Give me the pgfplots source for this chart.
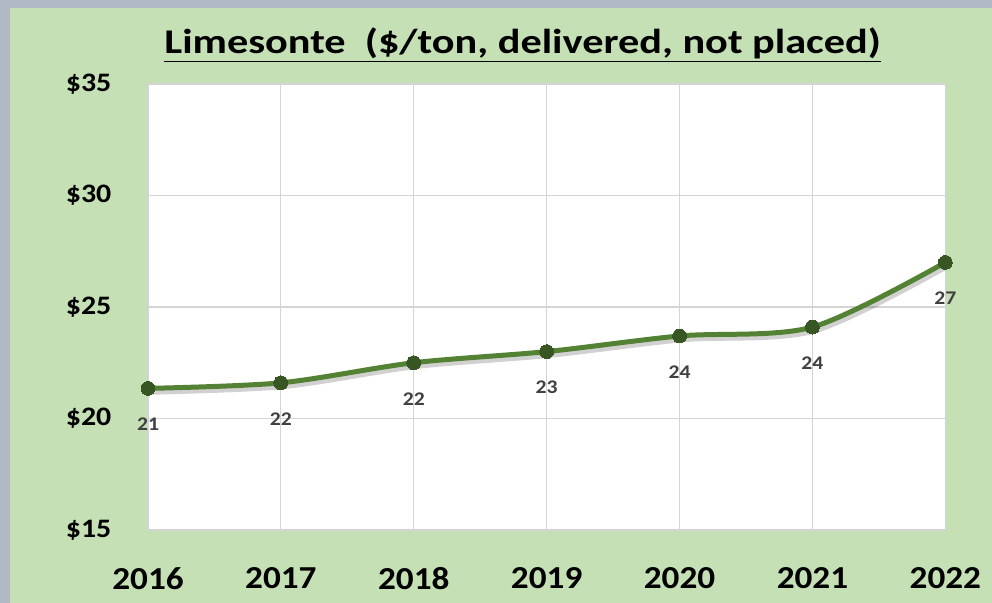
\documentclass[border=0pt]{standalone}
\usepackage{pgfplots}
\pgfplotsset{compat=1.18}
\usepackage{fontspec}
\setmainfont{Carlito}
\definecolor{bggreen}{HTML}{C5E0B4}
\definecolor{linegreen}{HTML}{548235}
\definecolor{markgreen}{HTML}{375623}
\definecolor{framegray}{HTML}{B2B9C6}
\definecolor{labelgray}{HTML}{404040}
\begin{document}
\begin{tikzpicture}
\fill[framegray] (-111pt,-54.75pt) rectangle (633pt,397.5pt);
\fill[bggreen] (-103.5pt,-54.75pt) rectangle (633pt,391.5pt);
\node[font=\bfseries\fontsize{26}{26}\selectfont, inner sep=0pt] at (281pt,364pt) {\scalebox{1.22}[1]{\underline{Limesonte\ \ (\$/ton, delivered, not placed)}}};
\begin{axis}[
  at={(0pt,0pt)}, anchor=south west,
  scale only axis, width=598pt, height=334.5pt,
  xmin=2016, xmax=2022, ymin=15, ymax=35,
  xtick={2016,2017,2018,2019,2020,2021,2022},
  ytick={15,20,25,30,35},
  grid=major,
  major grid style={draw=black!17, line width=0.9pt},
  axis line style={draw=none},
  tick style={draw=none},
  axis background/.style={fill=white},
  /pgf/number format/assume math mode=true,
  /pgf/number format/1000 sep={},
  xticklabel style={font=\bfseries\fontsize{24}{24}\selectfont, yshift=-24.5pt},
  xticklabel={\scalebox{1.1}[1]{\pgfmathprintnumber{\tick}}},
  yticklabel style={font=\bfseries\fontsize{20}{20}\selectfont, xshift=-24pt},
  yticklabel={\scalebox{1.12}[1]{\$\pgfmathprintnumber{\tick}}},
  clip=false,
]
\addplot[smooth, black, opacity=0.18, line width=4.5pt, xshift=1.5pt, yshift=-2.5pt, forget plot] coordinates {
  (2016,21.35) (2017,21.6) (2018,22.5) (2019,23.0) (2020,23.7) (2021,24.1) (2022,27.0)
};
\addplot[smooth, linegreen, line width=3.75pt, mark=*, mark size=5.2pt,
  mark options={fill=markgreen, draw=markgreen, line width=0pt},
  point meta=explicit symbolic,
  nodes near coords={\scalebox{1.12}[1]{\pgfplotspointmeta}},
  every node near coord/.append style={font=\bfseries\fontsize{14.5}{14.5}\selectfont, text=labelgray, anchor=center, yshift=-27pt}]
  coordinates {
  (2016,21.35) [21]
  (2017,21.6) [22]
  (2018,22.5) [22]
  (2019,23.0) [23]
  (2020,23.7) [24]
  (2021,24.1) [24]
  (2022,27.0) [27]
};
\end{axis}
\end{tikzpicture}
\end{document}
